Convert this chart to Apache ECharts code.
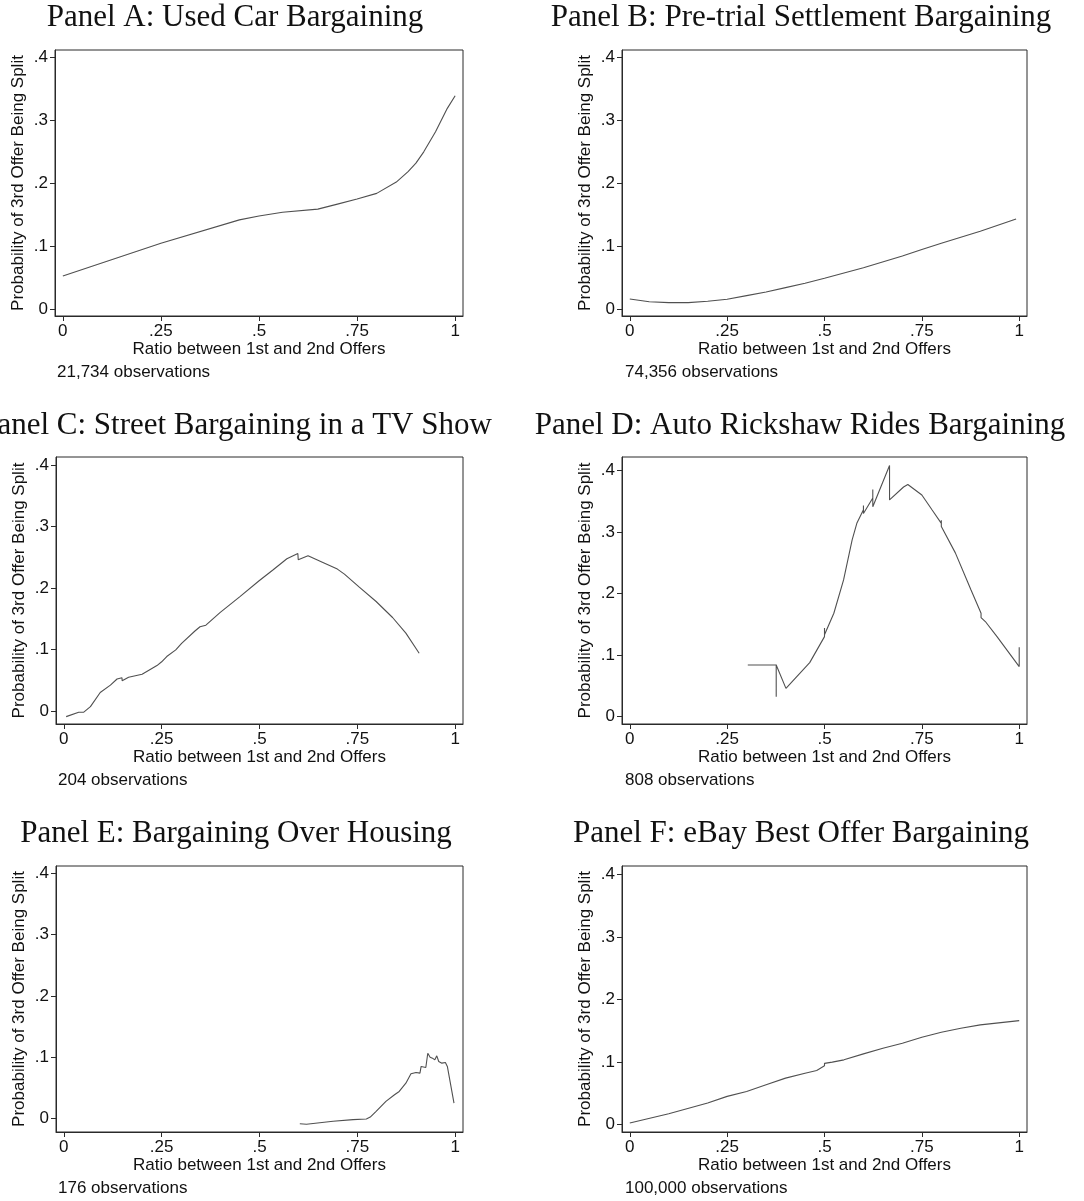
<!DOCTYPE html>
<html>
<head>
<meta charset="utf-8">
<script src="https://cdn.jsdelivr.net/npm/echarts@6/dist/echarts.min.js"></script>
<style>
  html, body { margin: 0; padding: 0; background: #fff; }
  #chart { width: 1084px; height: 1201px; }
</style>
</head>
<body>
<div id="chart"></div>
<script>
// ---------- DATA ----------
const panelTitles = [
  'Panel A: Used Car Bargaining',
  'Panel B: Pre-trial Settlement Bargaining',
  'Panel C: Street Bargaining in a TV Show',
  'Panel D: Auto Rickshaw Rides Bargaining',
  'Panel E: Bargaining Over Housing',
  'Panel F: eBay Best Offer Bargaining'
];
const observations = ['21,734 observations', '74,356 observations', '204 observations',
                      '808 observations', '176 observations', '100,000 observations'];
const xAxisTitle = 'Ratio between 1st and 2nd Offers';
const yAxisTitle = 'Probability of 3rd Offer Being Split';
const xTicks = [0, 0.25, 0.5, 0.75, 1];
const yTicks = [0, 0.1, 0.2, 0.3, 0.4];

const panelA_x = [0, 0.25, 0.45, 0.5, 0.56, 0.65, 0.7, 0.75, 0.8, 0.85, 0.88, 0.9, 0.92, 0.95, 0.98, 1];
const panelA_y = [0.053, 0.105, 0.142, 0.148, 0.154, 0.159, 0.167, 0.175, 0.184, 0.202, 0.2185, 0.232, 0.25, 0.282, 0.319, 0.339];

const panelB_x = [0, 0.05, 0.1, 0.15, 0.2, 0.25, 0.3, 0.35, 0.4, 0.45, 0.5, 0.6, 0.7, 0.75, 0.8, 0.9, 0.992];
const panelB_y = [0.0164, 0.012, 0.0106, 0.0106, 0.0127, 0.0159, 0.0217, 0.0275, 0.0344, 0.0413, 0.0492, 0.066, 0.0847, 0.095, 0.105, 0.124, 0.1434];

const panelC_x = [0.006, 0.038, 0.051, 0.068, 0.093, 0.119, 0.136, 0.1486, 0.149, 0.1655, 0.2, 0.238, 0.25, 0.263, 0.286, 0.301,
                  0.335, 0.348, 0.363, 0.399, 0.45, 0.499, 0.535, 0.57, 0.598, 0.599, 0.624, 0.662, 0.699, 0.717, 0.755, 0.798, 0.84, 0.874, 0.908];
const panelC_y = [-0.0092, -0.002, -0.002, 0.007, 0.03, 0.042, 0.052, 0.054, 0.049, 0.0548, 0.0597, 0.0738, 0.08, 0.0885, 0.0993, 0.11,
                  0.13, 0.137, 0.1395, 0.16, 0.186, 0.2117, 0.2296, 0.2475, 0.256, 0.246, 0.2524, 0.2415, 0.2307, 0.2225, 0.2013, 0.178, 0.152, 0.1265, 0.0939];

const panelD_x = [0.303, 0.376, 0.376, 0.376, 0.401, 0.462, 0.5, 0.5, 0.5, 0.524, 0.549, 0.571, 0.583, 0.6, 0.6, 0.6, 0.624, 0.624, 0.624,
                  0.667, 0.667, 0.703, 0.714, 0.75, 0.776, 0.8, 0.8, 0.8, 0.836, 0.876, 0.902, 0.902, 0.902, 0.913, 0.943, 1.0, 1.0];
const panelD_y = [0.084, 0.084, 0.0325, 0.084, 0.046, 0.0878, 0.13, 0.144, 0.133, 0.168, 0.222, 0.287, 0.314, 0.336, 0.343, 0.33, 0.355, 0.369, 0.341,
                  0.408, 0.352, 0.373, 0.377, 0.36, 0.336, 0.314, 0.319, 0.309, 0.266, 0.206, 0.168, 0.171, 0.161, 0.1545, 0.13, 0.0813, 0.1127];

const panelE_x = [0.603, 0.62, 0.688, 0.739, 0.773, 0.783, 0.798, 0.823, 0.845, 0.857, 0.874, 0.887, 0.9, 0.91, 0.913, 0.925, 0.93,
                  0.936, 0.942, 0.948, 0.953, 0.958, 0.966, 0.975, 0.98, 0.997];
const panelE_y = [-0.0093, -0.0103, -0.0054, -0.0027, -0.0016, 0.0016, 0.0109, 0.0272, 0.038, 0.0435, 0.057, 0.0724, 0.0746, 0.0735, 0.0844, 0.0827, 0.106,
                  0.0996, 0.098, 0.0952, 0.1018, 0.0925, 0.0898, 0.0909, 0.0844, 0.0245];

const panelF_x = [0, 0.1, 0.2, 0.25, 0.3, 0.35, 0.4, 0.45, 0.48, 0.5, 0.5, 0.52, 0.55, 0.6, 0.65, 0.7, 0.75, 0.8, 0.85, 0.9, 1.0];
const panelF_y = [0.0027, 0.0175, 0.0345, 0.0452, 0.0531, 0.0637, 0.0744, 0.0823, 0.0866, 0.094, 0.098, 0.0999, 0.1036, 0.1131, 0.1222, 0.13, 0.1397, 0.1477, 0.154, 0.1594, 0.1663];

const seriesX = [panelA_x, panelB_x, panelC_x, panelD_x, panelE_x, panelF_x];
const seriesY = [panelA_y, panelB_y, panelC_y, panelD_y, panelE_y, panelF_y];

// ---------- LAYOUT ----------
const layout = [
  { left: 55,  top: 50,  width: 408, height: 266, yMin: -0.0106, yMax: 0.4116, titleX: 235, titleY: 18,  obsX: 57,  obsY: 372 },
  { left: 622, top: 50,  width: 405, height: 266, yMin: -0.0106, yMax: 0.4116, titleX: 801, titleY: 18,  obsX: 625, obsY: 372 },
  { left: 56,  top: 457, width: 407, height: 267, yMin: -0.0212, yMax: 0.413,  titleX: 236, titleY: 426, obsX: 58,  obsY: 780 },
  { left: 622, top: 457, width: 405, height: 267, yMin: -0.0119, yMax: 0.4217, titleX: 800, titleY: 426, obsX: 625, obsY: 780 },
  { left: 56,  top: 866, width: 407, height: 266, yMin: -0.0229, yMax: 0.4125, titleX: 236, titleY: 834, obsX: 58,  obsY: 1188 },
  { left: 622, top: 866, width: 405, height: 266, yMin: -0.0117, yMax: 0.4133, titleX: 801, titleY: 834, obsX: 625, obsY: 1188 }
];

const SANS = '"Liberation Sans", Arial, Helvetica, sans-serif';
const SERIF = '"Liberation Serif", "Times New Roman", serif';
const fmt = v => (v === 0 ? '0' : v === 1 ? '1' : String(v).replace(/^0/, ''));

const grids = [], xAxes = [], yAxes = [], series = [], graphics = [];
layout.forEach((L, i) => {
  grids.push({ left: L.left, top: L.top, width: L.width, height: L.height, show: true,
               borderColor: '#2a2a2a', borderWidth: 1, backgroundColor: '#fff', containLabel: false });
  xAxes.push({
    type: 'value', gridIndex: i, min: -0.02, max: 1.02, position: 'bottom',
    name: xAxisTitle, nameLocation: 'middle', nameGap: 25,
    nameTextStyle: { fontFamily: SANS, fontSize: 17, color: '#111' },
    axisLine: { show: true, onZero: false, lineStyle: { color: '#2a2a2a', width: 1 } },
    axisTick: { show: true, customValues: xTicks, length: 5, lineStyle: { color: '#2a2a2a' } },
    axisLabel: { customValues: xTicks, formatter: fmt, margin: 7, fontFamily: SANS, fontSize: 17, color: '#111' },
    splitLine: { show: false }
  });
  yAxes.push({
    type: 'value', gridIndex: i, min: L.yMin, max: L.yMax, position: 'left',
    name: yAxisTitle, nameLocation: 'middle', nameGap: 28,
    nameTextStyle: { fontFamily: SANS, fontSize: 17, color: '#111' },
    axisLine: { show: true, onZero: false, lineStyle: { color: '#2a2a2a', width: 1 } },
    axisTick: { show: true, customValues: yTicks, length: 5, lineStyle: { color: '#2a2a2a' } },
    axisLabel: { customValues: yTicks, formatter: fmt, margin: 7, fontFamily: SANS, fontSize: 17, color: '#111' },
    splitLine: { show: false }
  });
  series.push({
    type: 'line', xAxisIndex: i, yAxisIndex: i,
    data: seriesX[i].map((x, k) => [x, seriesY[i][k]]),
    showSymbol: false, symbol: 'none', smooth: false, clip: true,
    lineStyle: { color: '#505050', width: 1.1 },
    animation: false
  });
  graphics.push({
    type: 'text', x: L.titleX, y: L.titleY,
    style: { text: panelTitles[i], font: '31px ' + SERIF, fill: '#111', align: 'center', verticalAlign: 'middle' }
  });
  graphics.push({
    type: 'text', x: L.obsX, y: L.obsY,
    style: { text: observations[i], font: '17px ' + SANS, fill: '#111', align: 'left', verticalAlign: 'middle' }
  });
});

const chart = echarts.init(document.getElementById('chart'), null, { renderer: 'canvas' });
chart.setOption({
  backgroundColor: '#fff',
  animation: false,
  grid: grids, xAxis: xAxes, yAxis: yAxes, series: series,
  graphic: graphics
});
</script>
</body>
</html>
